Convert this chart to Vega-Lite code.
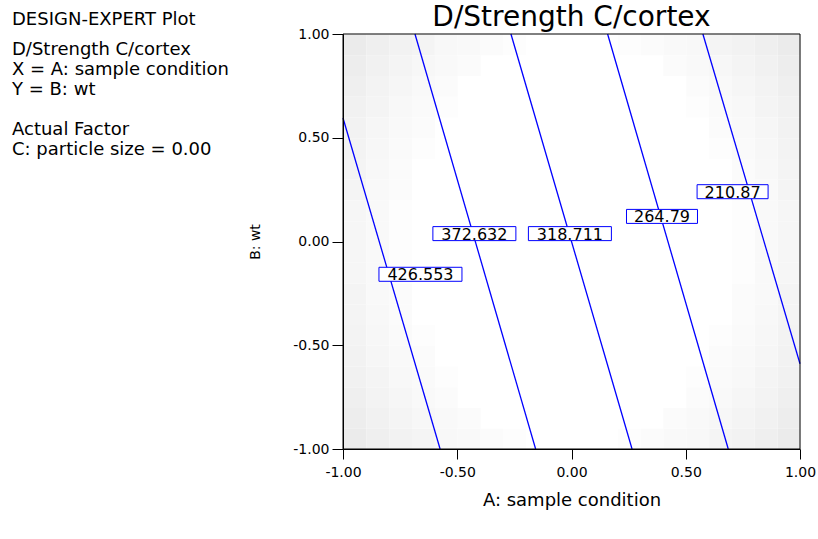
{
  "$schema": "https://vega.github.io/schema/vega-lite/v6.json",
  "padding": {"left": 11, "top": 4, "right": 5, "bottom": 5},
  "bounds": "flush",
  "spacing": 330,
  "background": "white",
  "config": {
    "view": {"stroke": null},
    "font": "DejaVu Sans",
    "axis": {"grid": false, "domainColor": "black", "tickColor": "black", "labelColor": "black", "titleColor": "black", "labelFont": "DejaVu Sans", "titleFont": "DejaVu Sans", "titleFontWeight": "normal"}
  },
  "datasets": {
    "cells": [
      {"x":0.9,"y":0.9,"d":17},{"x":-1,"y":0.9,"d":17},{"x":0.9,"y":-1,"d":17},{"x":-1,"y":-1,"d":17},
      {"x":0.8,"y":0.9,"d":14},{"x":-0.9,"y":0.9,"d":14},{"x":0.8,"y":-1,"d":14},{"x":-0.9,"y":-1,"d":14},
      {"x":0.7,"y":0.9,"d":11},{"x":-0.8,"y":0.9,"d":11},{"x":0.7,"y":-1,"d":11},{"x":-0.8,"y":-1,"d":11},
      {"x":0.6,"y":0.9,"d":9},{"x":-0.7,"y":0.9,"d":9},{"x":0.6,"y":-1,"d":9},{"x":-0.7,"y":-1,"d":9},
      {"x":0.5,"y":0.9,"d":6},{"x":-0.6,"y":0.9,"d":6},{"x":0.5,"y":-1,"d":6},{"x":-0.6,"y":-1,"d":6},
      {"x":0.4,"y":0.9,"d":5},{"x":-0.5,"y":0.9,"d":5},{"x":0.4,"y":-1,"d":5},{"x":-0.5,"y":-1,"d":5},
      {"x":0.3,"y":0.9,"d":3},{"x":-0.4,"y":0.9,"d":3},{"x":0.3,"y":-1,"d":3},{"x":-0.4,"y":-1,"d":3},
      {"x":0.2,"y":0.9,"d":2},{"x":-0.3,"y":0.9,"d":2},{"x":0.2,"y":-1,"d":2},{"x":-0.3,"y":-1,"d":2},

      {"x":0.9,"y":0.8,"d":15},{"x":-1,"y":0.8,"d":15},{"x":0.9,"y":-0.9,"d":15},{"x":-1,"y":-0.9,"d":15},
      {"x":0.8,"y":0.8,"d":12},{"x":-0.9,"y":0.8,"d":12},{"x":0.8,"y":-0.9,"d":12},{"x":-0.9,"y":-0.9,"d":12},
      {"x":0.7,"y":0.8,"d":9},{"x":-0.8,"y":0.8,"d":9},{"x":0.7,"y":-0.9,"d":9},{"x":-0.8,"y":-0.9,"d":9},
      {"x":0.6,"y":0.8,"d":7},{"x":-0.7,"y":0.8,"d":7},{"x":0.6,"y":-0.9,"d":7},{"x":-0.7,"y":-0.9,"d":7},
      {"x":0.5,"y":0.8,"d":5},{"x":-0.6,"y":0.8,"d":5},{"x":0.5,"y":-0.9,"d":5},{"x":-0.6,"y":-0.9,"d":5},
      {"x":0.4,"y":0.8,"d":3},{"x":-0.5,"y":0.8,"d":3},{"x":0.4,"y":-0.9,"d":3},{"x":-0.5,"y":-0.9,"d":3},

      {"x":0.9,"y":0.7,"d":14},{"x":-1,"y":0.7,"d":14},{"x":0.9,"y":-0.8,"d":14},{"x":-1,"y":-0.8,"d":14},
      {"x":0.8,"y":0.7,"d":10},{"x":-0.9,"y":0.7,"d":10},{"x":0.8,"y":-0.8,"d":10},{"x":-0.9,"y":-0.8,"d":10},
      {"x":0.7,"y":0.7,"d":8},{"x":-0.8,"y":0.7,"d":8},{"x":0.7,"y":-0.8,"d":8},{"x":-0.8,"y":-0.8,"d":8},
      {"x":0.6,"y":0.7,"d":5},{"x":-0.7,"y":0.7,"d":5},{"x":0.6,"y":-0.8,"d":5},{"x":-0.7,"y":-0.8,"d":5},
      {"x":0.5,"y":0.7,"d":3},{"x":-0.6,"y":0.7,"d":3},{"x":0.5,"y":-0.8,"d":3},{"x":-0.6,"y":-0.8,"d":3},

      {"x":0.9,"y":0.6,"d":12},{"x":-1,"y":0.6,"d":12},{"x":0.9,"y":-0.7,"d":12},{"x":-1,"y":-0.7,"d":12},
      {"x":0.8,"y":0.6,"d":9},{"x":-0.9,"y":0.6,"d":9},{"x":0.8,"y":-0.7,"d":9},{"x":-0.9,"y":-0.7,"d":9},
      {"x":0.7,"y":0.6,"d":6},{"x":-0.8,"y":0.6,"d":6},{"x":0.7,"y":-0.7,"d":6},{"x":-0.8,"y":-0.7,"d":6},
      {"x":0.6,"y":0.6,"d":4},{"x":-0.7,"y":0.6,"d":4},{"x":0.6,"y":-0.7,"d":4},{"x":-0.7,"y":-0.7,"d":4},
      {"x":0.5,"y":0.6,"d":2},{"x":-0.6,"y":0.6,"d":2},{"x":0.5,"y":-0.7,"d":2},{"x":-0.6,"y":-0.7,"d":2},

      {"x":0.9,"y":0.5,"d":11},{"x":-1,"y":0.5,"d":11},{"x":0.9,"y":-0.6,"d":11},{"x":-1,"y":-0.6,"d":11},
      {"x":0.8,"y":0.5,"d":8},{"x":-0.9,"y":0.5,"d":8},{"x":0.8,"y":-0.6,"d":8},{"x":-0.9,"y":-0.6,"d":8},
      {"x":0.7,"y":0.5,"d":5},{"x":-0.8,"y":0.5,"d":5},{"x":0.7,"y":-0.6,"d":5},{"x":-0.8,"y":-0.6,"d":5},
      {"x":0.6,"y":0.5,"d":3},{"x":-0.7,"y":0.5,"d":3},{"x":0.6,"y":-0.6,"d":3},{"x":-0.7,"y":-0.6,"d":3},

      {"x":0.9,"y":0.4,"d":10},{"x":-1,"y":0.4,"d":10},{"x":0.9,"y":-0.5,"d":10},{"x":-1,"y":-0.5,"d":10},
      {"x":0.8,"y":0.4,"d":7},{"x":-0.9,"y":0.4,"d":7},{"x":0.8,"y":-0.5,"d":7},{"x":-0.9,"y":-0.5,"d":7},
      {"x":0.7,"y":0.4,"d":4},{"x":-0.8,"y":0.4,"d":4},{"x":0.7,"y":-0.5,"d":4},{"x":-0.8,"y":-0.5,"d":4},
      {"x":0.6,"y":0.4,"d":2},{"x":-0.7,"y":0.4,"d":2},{"x":0.6,"y":-0.5,"d":2},{"x":-0.7,"y":-0.5,"d":2},

      {"x":0.9,"y":0.3,"d":9},{"x":-1,"y":0.3,"d":9},{"x":0.9,"y":-0.4,"d":9},{"x":-1,"y":-0.4,"d":9},
      {"x":0.8,"y":0.3,"d":6},{"x":-0.9,"y":0.3,"d":6},{"x":0.8,"y":-0.4,"d":6},{"x":-0.9,"y":-0.4,"d":6},
      {"x":0.7,"y":0.3,"d":3},{"x":-0.8,"y":0.3,"d":3},{"x":0.7,"y":-0.4,"d":3},{"x":-0.8,"y":-0.4,"d":3},

      {"x":0.9,"y":0.2,"d":9},{"x":-1,"y":0.2,"d":9},{"x":0.9,"y":-0.3,"d":9},{"x":-1,"y":-0.3,"d":9},
      {"x":0.8,"y":0.2,"d":5},{"x":-0.9,"y":0.2,"d":5},{"x":0.8,"y":-0.3,"d":5},{"x":-0.9,"y":-0.3,"d":5},
      {"x":0.7,"y":0.2,"d":3},{"x":-0.8,"y":0.2,"d":3},{"x":0.7,"y":-0.3,"d":3},{"x":-0.8,"y":-0.3,"d":3},

      {"x":0.9,"y":0.1,"d":8},{"x":-1,"y":0.1,"d":8},{"x":0.9,"y":-0.2,"d":8},{"x":-1,"y":-0.2,"d":8},
      {"x":0.8,"y":0.1,"d":5},{"x":-0.9,"y":0.1,"d":5},{"x":0.8,"y":-0.2,"d":5},{"x":-0.9,"y":-0.2,"d":5},
      {"x":0.7,"y":0.1,"d":2},{"x":-0.8,"y":0.1,"d":2},{"x":0.7,"y":-0.2,"d":2},{"x":-0.8,"y":-0.2,"d":2},

      {"x":0.9,"y":0,"d":8},{"x":-1,"y":0,"d":8},{"x":0.9,"y":-0.1,"d":8},{"x":-1,"y":-0.1,"d":8},
      {"x":0.8,"y":0,"d":5},{"x":-0.9,"y":0,"d":5},{"x":0.8,"y":-0.1,"d":5},{"x":-0.9,"y":-0.1,"d":5},
      {"x":0.7,"y":0,"d":2},{"x":-0.8,"y":0,"d":2},{"x":0.7,"y":-0.1,"d":2},{"x":-0.8,"y":-0.1,"d":2}
    ],
    "contours": [
      {"level":426.553,"x1":-1,"y1":0.595,"x2":-0.575,"y2":-1},
      {"level":372.632,"x1":-0.685,"y1":1,"x2":-0.157,"y2":-1},
      {"level":318.711,"x1":-0.265,"y1":1,"x2":0.265,"y2":-1},
      {"level":264.79,"x1":0.158,"y1":1,"x2":0.686,"y2":-1},
      {"level":210.87,"x1":0.575,"y1":1,"x2":1,"y2":-0.589}
    ],
    "labels": [
      {"lx":-0.661,"ly":-0.158,"label":"426.553"},
      {"lx":-0.425,"ly":0.038,"label":"372.632"},
      {"lx":-0.007,"ly":0.038,"label":"318.711"},
      {"lx":0.396,"ly":0.121,"label":"264.79"},
      {"lx":0.705,"ly":0.24,"label":"210.87"}
    ],
    "frame": [{"x0":-1,"x1":1,"y0":-1,"y1":1}],
    "info": [
      {"line":0,"t":"DESIGN-EXPERT Plot"},
      {"line":1.5,"t":"D/Strength C/cortex"},
      {"line":2.5,"t":"X = A: sample condition"},
      {"line":3.5,"t":"Y = B: wt"},
      {"line":5.5,"t":"Actual Factor"},
      {"line":6.5,"t":"C: particle size = 0.00"}
    ]
  },
  "hconcat": [
    {
      "width": 2,
      "height": 130,
      "data": {"name": "info"},
      "mark": {"type": "text", "align": "left", "baseline": "alphabetic", "font": "DejaVu Sans", "fontSize": 18, "color": "black"},
      "encoding": {
        "y": {"field": "line", "type": "quantitative", "scale": {"domain": [0, 6.5], "range": [-9, 121]}, "axis": null},
        "text": {"field": "t"}
      }
    },
    {
      "width": 457,
      "height": 415,
      "title": {"text": "D/Strength C/cortex", "font": "DejaVu Sans", "fontSize": 28, "fontWeight": "normal", "anchor": "middle", "baseline": "bottom", "offset": -33, "color": "black"},
      "layer": [
        {
          "data": {"name": "cells"},
          "mark": {"type": "rect"},
          "encoding": {
            "x": {"field": "x", "type": "quantitative", "bin": {"binned": true, "step": 0.1},
                  "scale": {"domain": [-1, 1], "nice": false, "zero": false},
                  "axis": {"title": "A: sample condition", "values": [-1, -0.5, 0, 0.5, 1],
                           "labelExpr": "datum.value < 0 ? '-' + format(-datum.value, '.2f') : format(datum.value, '.2f')",
                           "labelFontSize": 14, "tickSize": 10, "labelPadding": 6, "titleFontSize": 18, "titlePadding": 12, "labelFlush": false}},
            "y": {"field": "y", "type": "quantitative", "bin": {"binned": true, "step": 0.1},
                  "scale": {"domain": [-1, 1], "nice": false, "zero": false},
                  "axis": {"title": "B: wt", "values": [-1, -0.5, 0, 0.5, 1],
                           "labelExpr": "datum.value < 0 ? '-' + format(-datum.value, '.2f') : format(datum.value, '.2f')",
                           "labelFontSize": 14, "tickSize": 11, "labelPadding": 3, "titleFontSize": 14, "titlePadding": 30, "labelFlush": false}},
            "color": {"field": "d", "type": "quantitative", "scale": {"domain": [0, 17], "range": ["#ffffff", "#ebebeb"]}, "legend": null}
          }
        },
        {
          "data": {"name": "contours"},
          "mark": {"type": "rule", "color": "#0000ff", "strokeWidth": 1.3},
          "encoding": {
            "x": {"field": "x1", "type": "quantitative"},
            "x2": {"field": "x2"},
            "y": {"field": "y1", "type": "quantitative"},
            "y2": {"field": "y2"}
          }
        },
        {
          "data": {"name": "frame"},
          "mark": {"type": "rect", "fill": null, "fillOpacity": 0, "stroke": "black", "strokeWidth": 1},
          "encoding": {
            "x": {"field": "x0", "type": "quantitative"},
            "x2": {"field": "x1"},
            "y": {"field": "y0", "type": "quantitative"},
            "y2": {"field": "y1"}
          }
        },
        {
          "data": {"name": "labels"},
          "transform": [{"filter": "length(datum.label) > 6"}],
          "mark": {"type": "rect", "width": 83, "height": 14, "fill": "white", "stroke": "#0000ff", "strokeWidth": 1},
          "encoding": {
            "x": {"field": "lx", "type": "quantitative"},
            "y": {"field": "ly", "type": "quantitative"}
          }
        },
        {
          "data": {"name": "labels"},
          "transform": [{"filter": "length(datum.label) <= 6"}],
          "mark": {"type": "rect", "width": 71, "height": 14, "fill": "white", "stroke": "#0000ff", "strokeWidth": 1},
          "encoding": {
            "x": {"field": "lx", "type": "quantitative"},
            "y": {"field": "ly", "type": "quantitative"}
          }
        },
        {
          "data": {"name": "labels"},
          "mark": {"type": "text", "align": "center", "baseline": "middle", "font": "DejaVu Sans", "fontSize": 16, "color": "black", "dy": 1},
          "encoding": {
            "x": {"field": "lx", "type": "quantitative"},
            "y": {"field": "ly", "type": "quantitative"},
            "text": {"field": "label"}
          }
        }
      ]
    }
  ]
}
